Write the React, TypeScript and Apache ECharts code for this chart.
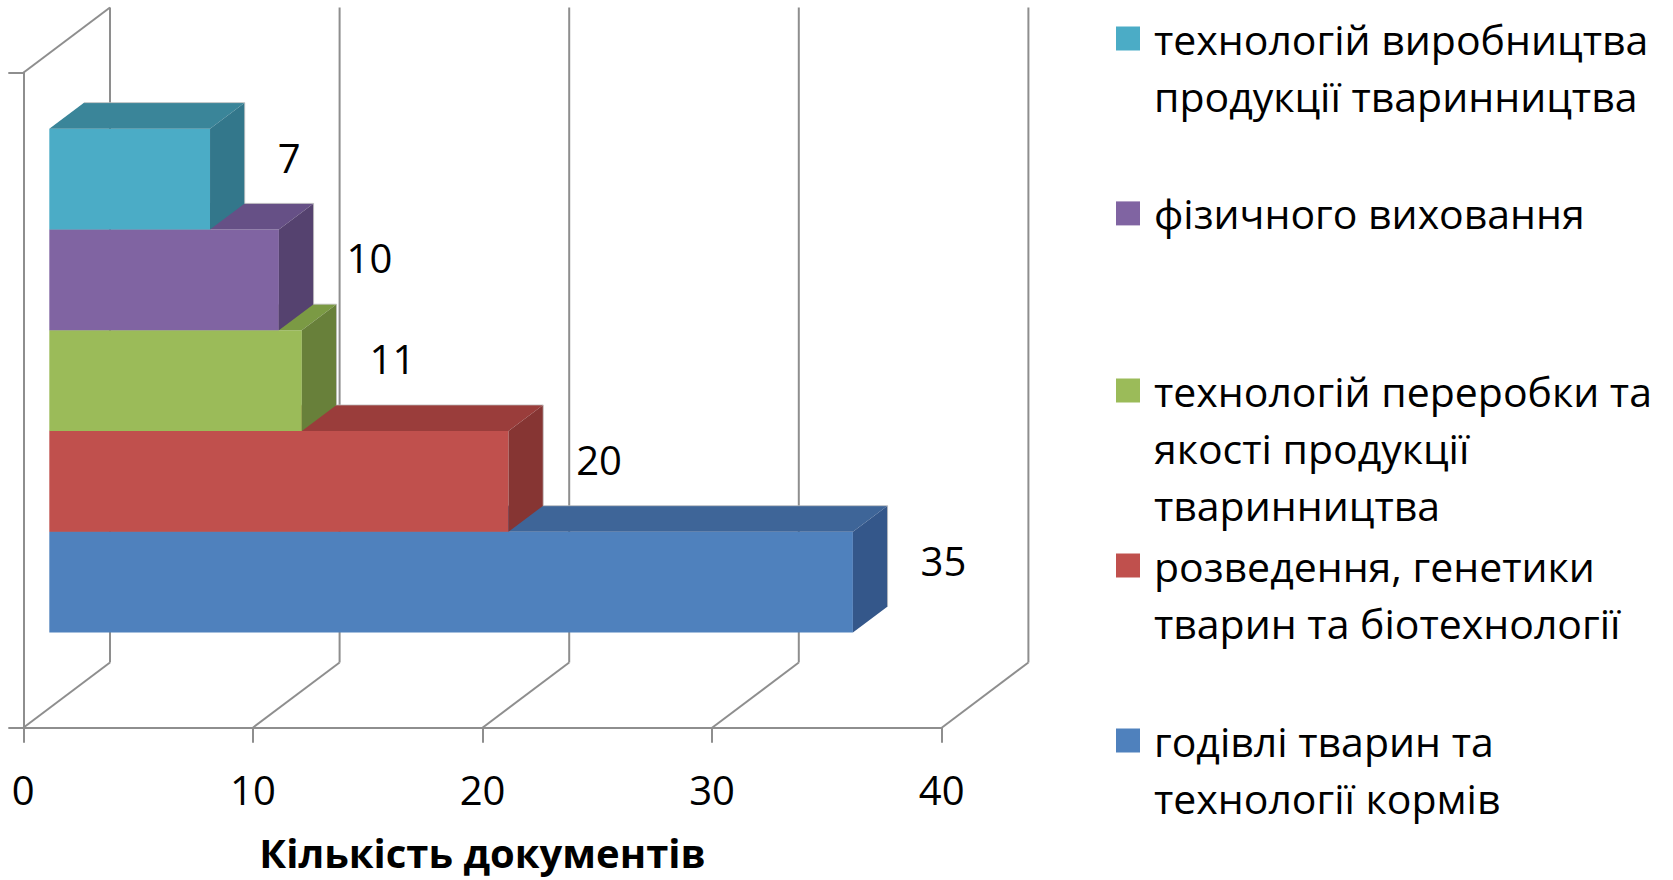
import { useEffect, useRef } from "react";
import * as echarts from "echarts";

// ---- data ----
const seriesNames = [
  "годівлі тварин та\nтехнології кормів",
  "розведення, генетики\nтварин та біотехнології",
  "технологій переробки та\nякості продукції\nтваринництва",
  "фізичного виховання",
  "технологій виробництва\nпродукції тваринництва",
];
const seriesValues = [35, 20, 11, 10, 7];
const xTicks = [0, 10, 20, 30, 40];
const axisTitle = "Кількість документів";

// ---- styles ----
const frontColors = ["#4F81BD", "#C0504D", "#9BBB59", "#8064A2", "#4BACC6"];
const topColors = ["#3E6598", "#9A3D3B", "#7B9A44", "#665086", "#3A8599"];
const sideColors = ["#34578A", "#863533", "#68803A", "#55426F", "#33778B"];
const legendCenters = [740.5, 565.5, 390.5, 213.4, 38.5];

const FONT = "'Open Sans', 'Noto Sans', sans-serif";
const GRID_COLOR = "#8E8E8E";
const DX = 86.7;
const DY = -65.2;
const BAR_FRONT = 0.3;
const BAR_DEPTH = 0.4;
const Y_MIN = -0.75;
const Y_MAX = 5.75;

export default function App() {
  const ref = useRef<HTMLDivElement>(null);

  useEffect(() => {
    document.body.style.margin = "0";
    if (!ref.current) return;
    const chart = echarts.init(ref.current, undefined, { renderer: "svg" });

    const gridSeries: any = {
      type: "custom",
      name: "__grid",
      silent: true,
      z: 1,
      xAxisIndex: 0,
      yAxisIndex: 0,
      data: xTicks.map((v) => [v, Y_MIN]),
      renderItem: (_p: any, api: any) => {
        const v = api.value(0);
        const f = api.coord([v, Y_MIN]);
        const t = api.coord([v, Y_MAX]);
        const ls = { stroke: GRID_COLOR, lineWidth: 2 };
        const children: any[] = [
          { type: "line", shape: { x1: f[0], y1: f[1], x2: f[0] + DX, y2: f[1] + DY }, style: ls },
          { type: "line", shape: { x1: f[0] + DX, y1: f[1] + DY, x2: f[0] + DX, y2: t[1] + DY }, style: ls },
        ];
        if (v === xTicks[0]) {
          children.push({ type: "line", shape: { x1: t[0], y1: t[1], x2: t[0] + DX, y2: t[1] + DY }, style: ls });
        }
        return { type: "group", children };
      },
    };

    const barSeries: any[] = seriesValues.map((val, i) => ({
      type: "custom",
      name: seriesNames[i],
      z: 2,
      xAxisIndex: 0,
      yAxisIndex: 0,
      data: [[val, i]],
      renderItem: (_p: any, api: any) => {
        const v = api.value(0);
        const idx = api.value(1);
        const a = api.coord([0, idx]);
        const b = api.coord([v, idx + 1]);
        const fx = DX * BAR_FRONT;
        const fy = DY * BAR_FRONT;
        const dx = DX * BAR_DEPTH;
        const dy = DY * BAR_DEPTH;
        const x0 = a[0] + fx;
        const x1 = b[0] + fx;
        const yB = a[1] + fy;
        const yT = b[1] + fy;
        return {
          type: "group",
          children: [
            { type: "rect", shape: { x: x0, y: yT, width: x1 - x0, height: yB - yT }, style: { fill: frontColors[i] } },
            {
              type: "polygon",
              shape: { points: [[x0, yT], [x0 + dx, yT + dy], [x1 + dx, yT + dy], [x1, yT]] },
              style: { fill: topColors[i] },
            },
            {
              type: "polygon",
              shape: { points: [[x1, yT], [x1 + dx, yT + dy], [x1 + dx, yB + dy], [x1, yB]] },
              style: { fill: sideColors[i] },
            },
            {
              type: "polyline",
              shape: { points: [[x0 + dx, yT + dy], [x1 + dx, yT + dy], [x1 + dx, yB + dy]] },
              style: { stroke: "rgba(190,190,190,0.8)", lineWidth: 1, fill: null },
            },
            {
              type: "text",
              x: x1 + dx + 33,
              y: (yT + yB) / 2 + dy + 4,
              style: {
                text: String(v),
                fill: "#000",
                font: `40px ${FONT}`,
                align: "left",
                verticalAlign: "middle",
                textAlign: "left",
                textVerticalAlign: "middle",
              },
            },
          ],
        };
      },
    }));

    const legendGraphics: any[] = [];
    seriesNames.forEach((name, i) => {
      const cy = legendCenters[i];
      legendGraphics.push({
        type: "rect",
        shape: { x: 1116, y: cy - 12, width: 24, height: 24 },
        style: { fill: frontColors[i] },
      });
      legendGraphics.push({
        type: "text",
        x: 1154,
        y: cy - 28.5,
        style: {
          text: name,
          fill: "#000",
          font: `41px ${FONT}`,
          lineHeight: 57,
          align: "left",
          verticalAlign: "top",
          textAlign: "left",
          textVerticalAlign: "top",
        },
      });
    });

    chart.setOption({
      animation: false,
      backgroundColor: "#fff",
      grid: { left: 23.3, top: 72.7, width: 918.4, height: 655, containLabel: false },
      xAxis: {
        type: "value",
        min: 0,
        max: 40,
        interval: 10,
        axisLine: { show: true, onZero: false, lineStyle: { color: GRID_COLOR, width: 2 } },
        axisTick: { show: true, length: 15, lineStyle: { color: GRID_COLOR, width: 2 } },
        splitLine: { show: false },
        axisLabel: { fontSize: 40, fontFamily: FONT, color: "#000", margin: 42 },
        name: axisTitle,
        nameLocation: "middle",
        nameGap: 105,
        nameTextStyle: { fontSize: 40, lineHeight: 40, fontWeight: "bold", fontFamily: FONT, color: "#000" },
      },
      yAxis: [
        { type: "value", min: Y_MIN, max: Y_MAX, show: false },
        {
          type: "category",
          data: [""],
          position: "left",
          axisLine: { show: true, onZero: false, lineStyle: { color: GRID_COLOR, width: 2 } },
          axisTick: { show: true, length: 15, lineStyle: { color: GRID_COLOR, width: 2 } },
          axisLabel: { show: false },
          splitLine: { show: false },
        },
      ],
      series: [gridSeries, ...barSeries],
      graphic: legendGraphics,
    });

    return () => chart.dispose();
  }, []);

  return <div ref={ref} style={{ width: 1673, height: 880 }} />;
}
